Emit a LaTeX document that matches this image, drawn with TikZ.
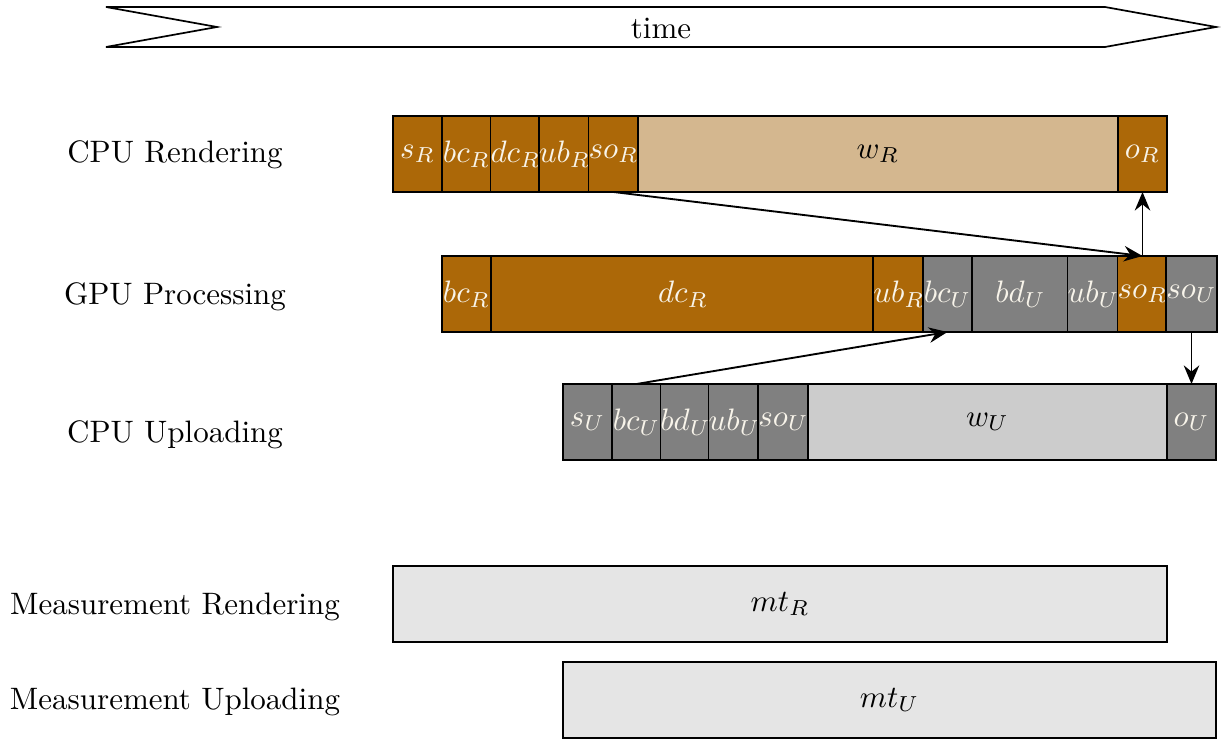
\documentclass[tikz,border=0pt]{standalone}
\usetikzlibrary{arrows.meta}
\definecolor{brn}{RGB}{172,104,8}
\definecolor{tanc}{RGB}{212,183,143}
\definecolor{gry}{RGB}{128,128,128}
\definecolor{lgry}{RGB}{204,204,204}
\definecolor{mgry}{RGB}{229,229,229}
\definecolor{cream}{RGB}{248,244,234}
\newcommand\seg[6]{%
  \node[seg,#5,minimum width={(#3-#2)*0.3226pt}] (#1) at ({(#2+#3)/2},{#4+38}) {#6};%
}
\tikzset{
  seg/.style={draw, line width=0.55pt, inner sep=0pt, outer sep=0pt, minimum height=24.52pt},
  dk/.style={fill=brn, text=cream},
  gk/.style={fill=gry, text=cream},
  tn/.style={fill=tanc},
  lg/.style={fill=lgry},
  mg/.style={fill=mgry},
  lbl/.style={anchor=base, inner sep=0pt},
  conn/.style={line width=0.6pt, -{Stealth[length=6pt,width=5pt,inset=2pt]}},
}
\begin{document}
\begin{tikzpicture}[x=0.3226pt,y=-0.3226pt]
\useasboundingbox (0,0) rectangle (1223,740);
% time arrow
\draw[line width=0.55pt] (106,7) -- (1105,7) -- (1216,27) -- (1105,47) -- (106,47) -- (217,27) -- cycle;
\node (time) at (661,28) {time};
% labels
\node[lbl] (lcr) at (175,163) {CPU Rendering};
\node[lbl] (lgp) at (175,305) {GPU Processing};
\node[lbl] (lcu) at (175,443) {CPU Uploading};
\node[lbl] (lmr) at (175,615) {Measurement Rendering};
\node[lbl] (lmu) at (175,710) {Measurement Uploading};
% CPU Rendering
\seg{rs}{393}{442}{116}{dk}{$s_R$}
\seg{rbc}{442}{491}{116}{dk}{$bc_R$}
\seg{rdc}{491}{540}{116}{dk}{$dc_R$}
\seg{rub}{540}{589}{116}{dk}{$ub_R$}
\seg{rso}{589}{638}{116}{dk}{$so_R$}
\seg{rw}{638}{1118}{116}{tn}{$w_R$}
\seg{ro}{1118}{1167}{116}{dk}{$o_R$}
% GPU Processing
\seg{gbcr}{442}{491}{256}{dk}{$bc_R$}
\seg{gdcr}{491}{875}{256}{dk}{$dc_R$}
\seg{gubr}{875}{923}{256}{dk}{$ub_R$}
\seg{gbcu}{923}{972}{256}{gk}{$bc_U$}
\seg{gbdu}{972}{1069}{256}{gk}{$bd_U$}
\seg{gubu}{1069}{1118}{256}{gk}{$ub_U$}
\seg{gsor}{1118}{1167}{256}{dk}{$so_R$}
\seg{gsou}{1167}{1216}{256}{gk}{$so_U$}
% CPU Uploading
\seg{us}{563}{612}{384}{gk}{$s_U$}
\seg{ubc}{612}{661}{384}{gk}{$bc_U$}
\seg{ubd}{661}{710}{384}{gk}{$bd_U$}
\seg{uub}{710}{759}{384}{gk}{$ub_U$}
\seg{uso}{759}{808}{384}{gk}{$so_U$}
\seg{uw}{808}{1167}{384}{lg}{$w_U$}
\seg{uo}{1167}{1216}{384}{gk}{$o_U$}
% Measurements
\seg{mr}{393}{1167}{566}{mg}{$mt_R$}
\seg{mu}{563}{1216}{662}{mg}{$mt_U$}
% connectors
\draw[conn] (rso.south) -- (gsor.north);
\draw[conn] (gsor.north) -- (ro.south);
\draw[conn] (ubc.north) -- (gbcu.south);
\draw[conn] (gsou.south) -- (uo.north);
\end{tikzpicture}
\end{document}
